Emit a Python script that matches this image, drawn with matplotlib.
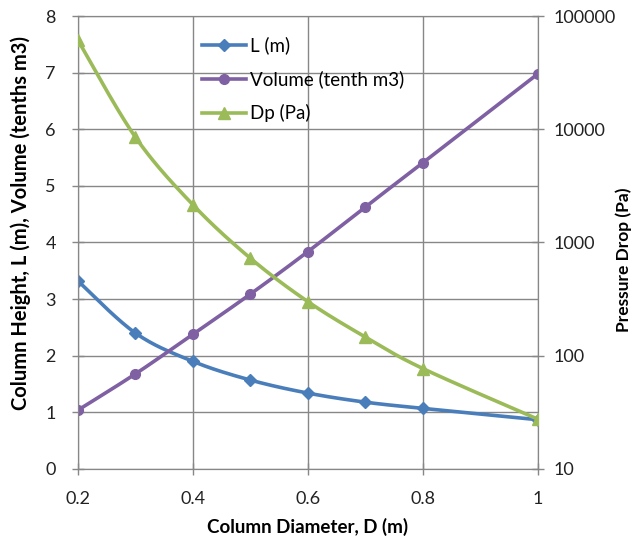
import numpy as np
import matplotlib
matplotlib.use('Agg')
import matplotlib.pyplot as plt
from matplotlib.lines import Line2D

plt.rcParams['font.family'] = ['Lato', 'DejaVu Sans']
plt.rcParams['font.size'] = 13

diameter = [0.2, 0.3, 0.4, 0.5, 0.6, 0.7, 0.8, 1.0]
height_L = [3.32, 2.40, 1.90, 1.57, 1.34, 1.18, 1.07, 0.87]
volume = [1.04, 1.68, 2.38, 3.09, 3.84, 4.63, 5.41, 6.98]
dp = [61000, 8500, 2150, 725, 300, 146, 77, 27.5]

x_ticks = [0.2, 0.4, 0.6, 0.8, 1.0]
x_ticklabels = ['0.2', '0.4', '0.6', '0.8', '1']

blue = '#4A7EBB'
purple = '#7F60A3'
green = '#9BBB59'
grid = '#878787'


def smooth(x, y, n=30):
    # Catmull-Rom style smoothing like Excel's smoothed lines
    x = np.asarray(x, float)
    y = np.asarray(y, float)
    xs, ys = [], []
    for i in range(len(x) - 1):
        p0 = (x[max(i - 1, 0)], y[max(i - 1, 0)])
        p1 = (x[i], y[i])
        p2 = (x[i + 1], y[i + 1])
        p3 = (x[min(i + 2, len(x) - 1)], y[min(i + 2, len(x) - 1)])
        c1 = (p1[0] + (p2[0] - p0[0]) / 6, p1[1] + (p2[1] - p0[1]) / 6)
        c2 = (p2[0] - (p3[0] - p1[0]) / 6, p2[1] - (p3[1] - p1[1]) / 6)
        t = np.linspace(0, 1, n)
        b = [(1 - t) ** 3, 3 * (1 - t) ** 2 * t, 3 * (1 - t) * t ** 2, t ** 3]
        xs.append(b[0] * p1[0] + b[1] * c1[0] + b[2] * c2[0] + b[3] * p2[0])
        ys.append(b[0] * p1[1] + b[1] * c1[1] + b[2] * c2[1] + b[3] * p2[1])
    return np.concatenate(xs), np.concatenate(ys)


fig = plt.figure(figsize=(6.35, 5.39), dpi=100)
ax = fig.add_axes([0.1228, 0.1299, 0.7244, 0.8404])
ax2 = ax.twinx()

lw = 2.6
sx, sy = smooth(diameter, height_L)
ax.plot(sx, sy, color=blue, lw=lw, zorder=3)
ax.plot(diameter, height_L, 'D', color=blue, ms=6.5, zorder=4)
sx, sy = smooth(diameter, volume)
ax.plot(sx, sy, color=purple, lw=lw, zorder=3)
ax.plot(diameter, volume, 'o', color=purple, ms=7, zorder=4)

sx, sy = smooth(diameter, np.log10(dp))
ax2.plot(sx, 10 ** sy, color=green, lw=lw, zorder=3)
ax2.plot(diameter, dp, '^', color=green, ms=8.5, zorder=4)

ax.set_xlim(0.2, 1.0)
ax.set_ylim(0, 8)
ax.set_xticks(x_ticks)
ax.set_xticklabels(x_ticklabels)
ax.set_yticks(range(0, 9))
ax.grid(True, color=grid, lw=1)
ax.set_axisbelow(True)

ax2.set_yscale('log')
ax2.set_ylim(10, 100000)
ax2.set_yticks([10, 100, 1000, 10000, 100000])
ax2.set_yticklabels(['10', '100', '1000', '10000', '100000'])
ax2.yaxis.set_minor_locator(matplotlib.ticker.NullLocator())

for a in (ax, ax2):
    for s in a.spines.values():
        s.set_color(grid)
    a.tick_params(direction='inout', length=8, color=grid, width=1, labelsize=13, labelcolor='#222222')
ax.tick_params(axis='x', pad=12)
ax.tick_params(axis='y', pad=12)
ax2.tick_params(axis='y', pad=7)

ax.set_xlabel('Column Diameter, D (m)', fontweight='bold', fontsize=13.5)
ax.xaxis.set_label_coords(0.5, -(518 - 469) / 453)
ax.xaxis.label.set_va('top')
ax.set_ylabel('Column Height, L (m), Volume (tenths m3)', fontweight='bold', fontsize=14.5)
ax.yaxis.set_label_coords(-(78 - 31) / 460, 0.543)
ax2.set_ylabel('Pressure Drop (Pa)', fontweight='bold', fontsize=12.5)
ax2.yaxis.set_label_coords((615 - 78) / 460, 0.461)

handles = [
    Line2D([], [], color=blue, lw=lw, marker='D', ms=6.5),
    Line2D([], [], color=purple, lw=lw, marker='o', ms=7),
    Line2D([], [], color=green, lw=lw, marker='^', ms=8.5),
]
ax2.legend(handles, ['L (m)', 'Volume (tenth m3)', 'Dp (Pa)'], loc='upper left',
           bbox_to_anchor=(193 / 635, 1 - 27 / 539), bbox_transform=fig.transFigure,
           frameon=False, handlelength=2.3, handletextpad=0.25, labelspacing=0.85,
           borderpad=0, fontsize=13.5)

fig.savefig('out.png', dpi=100)
